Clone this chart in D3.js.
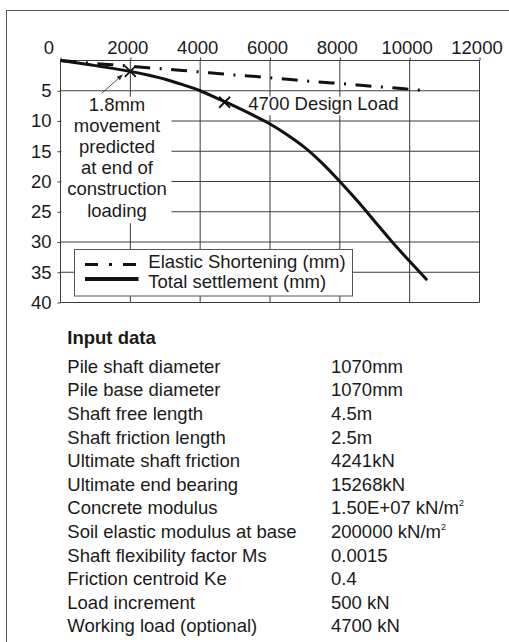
<!DOCTYPE html>
<html>
<head>
<meta charset="utf-8">
<script src="https://cdn.jsdelivr.net/npm/d3@7"></script>
<style>
  body { margin: 0; background: #fff; }
  svg { display: block; }
  text { font-family: "Liberation Sans", Arial, sans-serif; font-size: 18.5px; fill: #1a1a1a; }
</style>
</head>
<body>
<svg id="chart" width="509" height="642"></svg>
<script>
// load steps (kN) and settlements (mm)
const loads = [0, 500, 1000, 1500, 2000, 2500, 3000, 3500, 4000, 4500, 5000,
  5500, 6000, 6500, 7000, 7500, 8000, 8500, 9000, 9500, 10000, 10500];
const elastic = [0, 0.25, 0.5, 0.7, 0.95, 1.2, 1.4, 1.65, 1.9, 2.15, 2.4,
  2.6, 2.85, 3.1, 3.35, 3.6, 3.8, 4.05, 4.3, 4.5, 4.75, 5.0];
const total = [0, 0.4, 0.85, 1.3, 1.8, 2.4, 3.1, 4.0, 5.0, 6.3, 7.6,
  9.0, 10.5, 12.3, 14.4, 17.0, 20.0, 23.2, 26.6, 30.0, 33.2, 36.3];

const xTicks = [0, 2000, 4000, 6000, 8000, 10000, 12000];
const yTicks = [0, 5, 10, 15, 20, 25, 30, 35, 40];

const markers = [[2000, 1.8], [4700, 6.9]];
const noteLines = ['1.8mm', 'movement', 'predicted', 'at end of', 'construction', 'loading'];
const designLabel = '4700 Design Load';
const legendLabels = ['Elastic Shortening (mm)', 'Total settlement (mm)'];

const inputTitle = 'Input data';
const inputLabels = ['Pile shaft diameter', 'Pile base diameter', 'Shaft free length',
  'Shaft friction length', 'Ultimate shaft friction', 'Ultimate end bearing',
  'Concrete modulus', 'Soil elastic modulus at base', 'Shaft flexibility factor Ms',
  'Friction centroid Ke', 'Load increment', 'Working load (optional)'];
const inputValues = ['1070mm', '1070mm', '4.5m', '2.5m', '4241kN', '15268kN',
  '1.50E+07 kN/m²', '200000 kN/m²', '0.0015', '0.4', '500 kN', '4700 kN'];

const svg = d3.select('#chart');

// outer frame, only top and left edges fall inside the picture
svg.append('rect')
  .attr('x', 6.5).attr('y', 10.5)
  .attr('width', 700).attr('height', 800)
  .attr('fill', 'none').attr('stroke', '#555');

const x = d3.scaleLinear().domain([0, 12000]).range([60.5, 479.5]);
const y = d3.scaleLinear().domain([0, 40]).range([60.5, 302.5]);

const grid = svg.append('g').attr('stroke', '#3c3c3c').attr('stroke-width', 1);
grid.selectAll('.v').data(xTicks).enter().append('line')
  .attr('x1', d => x(d)).attr('x2', d => x(d))
  .attr('y1', y(0)).attr('y2', y(40));
grid.selectAll('.h').data(yTicks).enter().append('line')
  .attr('x1', x(0)).attr('x2', x(12000))
  .attr('y1', d => y(d)).attr('y2', d => y(d));

const xAxis = svg.append('g')
  .attr('transform', `translate(0, ${y(0)})`)
  .call(d3.axisTop(x).tickValues(xTicks).tickFormat(d3.format('d'))
    .tickSize(3).tickPadding(3.7).tickSizeOuter(0));
xAxis.select('.domain').remove();
xAxis.selectAll('line').attr('stroke', '#3c3c3c');
xAxis.selectAll('text').attr('fill', '#1a1a1a').attr('dx', d => d === 0 ? -12 : -3);

const yAxis = svg.append('g')
  .attr('transform', `translate(${x(0)}, 0)`)
  .call(d3.axisLeft(y).tickValues(yTicks.filter(d => d > 0)).tickFormat(d3.format('d'))
    .tickSize(3).tickPadding(6).tickSizeOuter(0));
yAxis.select('.domain').remove();
yAxis.selectAll('line').attr('stroke', '#3c3c3c');
yAxis.selectAll('text').attr('fill', '#1a1a1a');
svg.selectAll('.tick text').style('font-family', '"Liberation Sans", Arial, sans-serif').style('font-size', '18.5px');

// annotation backgrounds hide the grid
const noteX = 117, noteTop = 111, noteStep = 21.1;
svg.append('rect')
  .attr('x', x(0) + 1).attr('y', noteTop - 14.3)
  .attr('width', 171.5 - x(0) - 1).attr('height', noteStep * (noteLines.length - 1) + 21)
  .attr('fill', '#fff');
const designX = 248.3, designY = 110;
svg.append('rect')
  .attr('x', designX - 4).attr('y', designY - 13.3)
  .attr('width', 162).attr('height', 18.5)
  .attr('fill', '#fff');

const pts = (vals) => loads.map((l, i) => [l, vals[i]]);
const line = d3.line().x(d => x(d[0])).y(d => y(d[1])).curve(d3.curveMonotoneX);

svg.append('path')
  .datum(pts(elastic))
  .attr('d', line)
  .attr('fill', 'none').attr('stroke', '#111').attr('stroke-width', 3)
  .attr('stroke-dasharray', '16,9.5,2,9.5');

svg.append('path')
  .datum(pts(total))
  .attr('d', line)
  .attr('fill', 'none').attr('stroke', '#111').attr('stroke-width', 3);

// x markers
svg.selectAll('.mark').data(markers).enter().append('path')
  .attr('d', d => {
    const cx = x(d[0]), cy = y(d[1]), r = 5.5;
    return `M${cx - r},${cy - r}L${cx + r},${cy + r}M${cx - r},${cy + r}L${cx + r},${cy - r}`;
  })
  .attr('stroke', '#111').attr('stroke-width', 1.8).attr('fill', 'none');

// arrow to the 1.8mm marker
svg.append('defs').append('marker')
  .attr('id', 'arrow').attr('viewBox', '0 0 10 10')
  .attr('refX', 9).attr('refY', 5)
  .attr('markerWidth', 6).attr('markerHeight', 6)
  .attr('markerUnits', 'userSpaceOnUse')
  .attr('orient', 'auto')
  .append('path').attr('d', 'M0,1L10,5L0,9Z').attr('fill', '#222');
const ax = x(markers[0][0]) - 8, ay = y(markers[0][1]) + 3.6;
svg.append('line')
  .attr('x1', ax - 20.6).attr('y1', ay + 18.3)
  .attr('x2', ax).attr('y2', ay)
  .attr('stroke', '#222').attr('stroke-width', 0.8)
  .attr('marker-end', 'url(#arrow)');

svg.append('g').selectAll('text').data(noteLines).enter().append('text')
  .attr('x', noteX).attr('y', (d, i) => noteTop + i * noteStep)
  .attr('text-anchor', 'middle')
  .text(d => d);

svg.append('text').attr('x', designX).attr('y', designY).text(designLabel);

// legend
const lg = svg.append('g');
lg.append('rect')
  .attr('x', 74.5).attr('y', 249.5).attr('width', 278).attr('height', 46.5)
  .attr('fill', '#fff').attr('stroke', '#555').attr('stroke-width', 1);
lg.append('line')
  .attr('x1', 85).attr('x2', 138.5).attr('y1', 264.5).attr('y2', 264.5)
  .attr('stroke', '#111').attr('stroke-width', 3).attr('stroke-dasharray', '13,11,3,11');
lg.append('line')
  .attr('x1', 85).attr('x2', 138.5).attr('y1', 279).attr('y2', 279)
  .attr('stroke', '#111').attr('stroke-width', 4);
lg.selectAll('.lt').data(legendLabels).enter().append('text')
  .attr('x', 148.3).attr('y', (d, i) => 268.3 + i * 20)
  .text(d => d);

// input data table
svg.append('text')
  .attr('x', 67.3).attr('y', 343.5)
  .attr('font-weight', 'bold')
  .text(inputTitle);

const rowY = i => 372.7 + i * 23.6;
svg.append('g').selectAll('text').data(inputLabels).enter().append('text')
  .attr('x', 67.3).attr('y', (d, i) => rowY(i))
  .text(d => d);

const vals = svg.append('g').selectAll('text').data(inputValues).enter().append('text')
  .attr('x', 331).attr('y', (d, i) => rowY(i));
vals.each(function(d) {
  const t = d3.select(this);
  if (d.endsWith('²')) {
    t.append('tspan').text(d.slice(0, -1));
    t.append('tspan').attr('dy', -8).style('font-size', '9px').text('2');
  } else {
    t.text(d);
  }
});
</script>
</body>
</html>
